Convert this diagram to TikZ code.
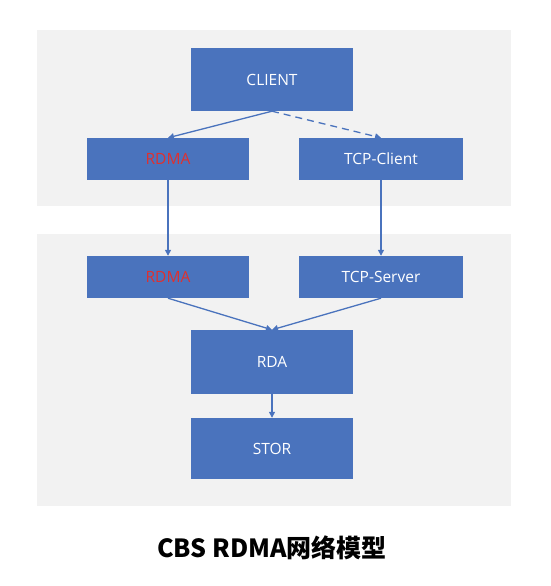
\documentclass[tikz,border=0pt]{standalone}
\usepackage{fontspec}
\setmainfont{Open Sans}
\newfontfamily\cjk{Noto Sans CJK SC}
\usetikzlibrary{arrows.meta}
\definecolor{boxblue}{HTML}{4A73BD}
\definecolor{panelgrey}{HTML}{F2F2F2}
\definecolor{rdmared}{HTML}{E0302E}
\begin{document}
\begin{tikzpicture}[x=1pt,y=-1pt,
  panel/.style={fill=panelgrey,draw=none},
  blk/.style={fill=boxblue,draw=none,text=white,font=\fontsize{15.5}{18}\selectfont,inner sep=0pt},
  conn/.style={draw=boxblue,line width=1.3pt,-{Triangle[length=6pt,width=6pt]}},
]
\useasboundingbox (0,0) rectangle (550,586);
\fill[white] (0,0) rectangle (550,586);
\path[panel] (37,30) rectangle (511,206);
\path[panel] (37,234) rectangle (511,506);
% nodes
\node[blk,minimum width=162pt,minimum height=63pt] (client) at (272,79.5) {CLIENT};
\node[blk,minimum width=162pt,minimum height=42pt,text=rdmared] (rdma1) at (168,159) {RDMA};
\node[blk,minimum width=164pt,minimum height=42pt] (tcpc) at (381,159) {TCP-Client};
\node[blk,minimum width=162pt,minimum height=42pt,text=rdmared] (rdma2) at (168,277) {RDMA};
\node[blk,minimum width=164pt,minimum height=42pt] (tcps) at (381,277) {TCP-Server};
\node[blk,minimum width=162pt,minimum height=64pt] (rda) at (272,362) {RDA};
\node[blk,minimum width=162pt,minimum height=61pt] (stor) at (272,448.5) {STOR};
% connectors
\draw[conn] (client.south) -- (rdma1.north);
\draw[conn,dash pattern=on 7pt off 5pt] (client.south) -- (tcpc.north);
\draw[conn] (rdma1.south) -- (rdma2.north);
\draw[conn] (tcpc.south) -- (tcps.north);
\draw[conn] (rdma2.south) -- (rda.north);
\draw[conn] (tcps.south) -- (rda.north);
\draw[conn] (rda.south) -- (stor.north);
% title
\node[font={\cjk\bfseries\fontsize{25}{29}\selectfont},inner sep=0pt] (title) at (272,548) {CBS RDMA网络模型};
\end{tikzpicture}
\end{document}
